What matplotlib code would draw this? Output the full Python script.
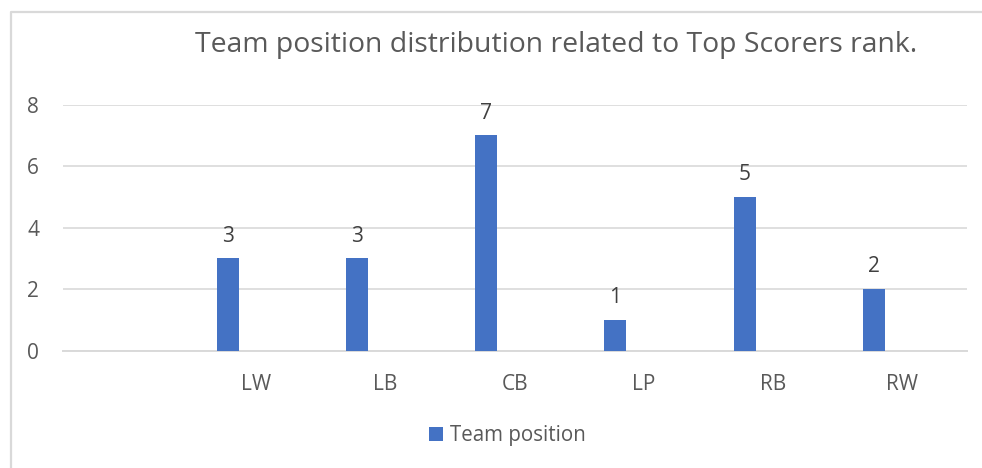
import matplotlib.pyplot as plt
from matplotlib.lines import Line2D

# Chart data
categories = ['', 'LW', 'LB', 'CB', 'LP', 'RB', 'RW']
counts = [None, 3, 3, 7, 1, 5, 2]
series_name = 'Team position'
title = 'Team position distribution related to Top Scorers rank.'

bar_color = '#4472C4'
text_color = '#595959'
grid_color = '#d9d9d9'

plt.rcParams['font.family'] = ['Open Sans', 'DejaVu Sans']

fig = plt.figure(figsize=(9.82, 4.68), dpi=100)
ax = fig.add_axes([62.7 / 982, 1 - 350.7 / 468, 904 / 982, 246 / 468])

xs = [i for i, v in enumerate(counts) if v is not None]
vals = [v for v in counts if v is not None]
bars = ax.bar([x - 0.22 for x in xs], vals, width=0.17, color=bar_color,
              label=series_name, zorder=3)

# value labels above the bars
for x, v in zip(xs, vals):
    ax.annotate(str(v), (x - 0.22, v), xytext=(0, 12.2),
                textcoords='offset points', ha='center', va='baseline',
                fontsize=15, color='#404040')

ax.set_xlim(-0.5, 6.5)
ax.set_ylim(0, 8)
ax.set_yticks([0, 2, 4, 6, 8])
ax.set_xticks(range(len(categories)))
ax.set_xticklabels(categories)
ax.grid(axis='y', color=grid_color, linewidth=1.2, zorder=0)
ax.tick_params(axis='both', length=0, labelsize=15, colors=text_color)
ax.tick_params(axis='x', pad=17)
ax.tick_params(axis='y', pad=17)
for side in ['top', 'right', 'left']:
    ax.spines[side].set_visible(False)
ax.spines['bottom'].set_color(grid_color)
ax.spines['bottom'].set_linewidth(1.4)
ax.spines['bottom'].set_zorder(0)

fig.text(556 / 982, 1 - 45 / 468, title, ha='center', va='center',
         fontsize=20.4, color=text_color)

fig.legend(handles=[bars], labels=[series_name], loc='center',
           bbox_to_anchor=(507 / 982, 1 - 436 / 468), frameon=False,
           fontsize=14.8, handlelength=0.68, handleheight=0.68,
           handletextpad=0.35, labelcolor=text_color)

# outer chart border: only left and top edges are visible in the crop
bx, by = 11 / 982, 1 - 12 / 468
fig.lines.append(Line2D([bx, bx, 1.0], [0.0, by, by],
                        transform=fig.transFigure, color=grid_color,
                        linewidth=1.6))

fig.savefig('out.png', dpi=100)
